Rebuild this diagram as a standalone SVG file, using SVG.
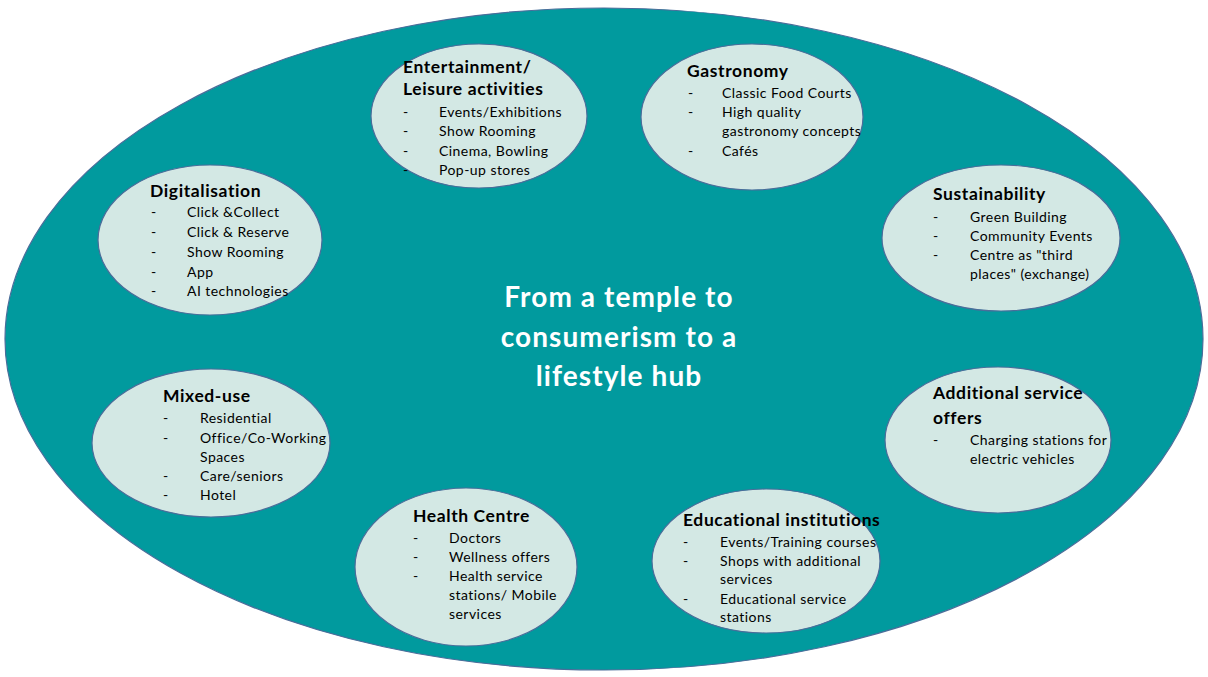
<svg xmlns="http://www.w3.org/2000/svg" width="1208" height="677" viewBox="0 0 1208 677">
  <style>
    .hub { fill: #019A9E; stroke: #4A6D9A; stroke-width: 1.2; }
    .topic { fill: #D3E8E4; stroke: #4A6D9A; stroke-width: 1.2; }
    text { font-family: Lato, "Open Sans", "Liberation Sans", sans-serif; fill: #000; }
    .title { font-size: 17.5px; font-weight: bold; letter-spacing: 0.6px; }
    .item { font-size: 14px; letter-spacing: 0.45px; }
    .centre { font-size: 28px; font-weight: bold; fill: #FFFFFF; text-anchor: middle; letter-spacing: 1.1px; }
  </style>

  <!-- outer hub -->
  <g id="hub">
    <ellipse class="hub" cx="604" cy="339" rx="599" ry="331"/>
    <text class="centre" x="619" y="307">From a temple to</text>
    <text class="centre" x="619" y="347">consumerism to a</text>
    <text class="centre" x="619" y="386">lifestyle hub</text>
  </g>

  <!-- no connectors in this diagram -->
  <g id="connectors"/>

  <g id="entertainment">
    <ellipse class="topic" cx="479" cy="116" rx="108" ry="72"/>
    <text class="title" x="403" y="73">Entertainment/</text>
    <text class="title" x="403" y="95">Leisure activities</text>
    <text class="item" x="403" y="117">-</text><text class="item" x="439" y="117">Events/Exhibitions</text>
    <text class="item" x="403" y="136">-</text><text class="item" x="439" y="136">Show Rooming</text>
    <text class="item" x="403" y="156">-</text><text class="item" x="439" y="156">Cinema, Bowling</text>
    <text class="item" x="403" y="175">-</text><text class="item" x="439" y="175">Pop-up stores</text>
  </g>

  <g id="gastronomy">
    <ellipse class="topic" cx="752" cy="117" rx="111" ry="73"/>
    <text class="title" x="687" y="77">Gastronomy</text>
    <text class="item" x="688" y="98">-</text><text class="item" x="722" y="98">Classic Food Courts</text>
    <text class="item" x="688" y="117">-</text><text class="item" x="722" y="117">High quality</text>
    <text class="item" x="722" y="136">gastronomy concepts</text>
    <text class="item" x="688" y="156">-</text><text class="item" x="722" y="156">Cafés</text>
  </g>

  <g id="digitalisation">
    <ellipse class="topic" cx="210" cy="240" rx="112" ry="75"/>
    <text class="title" x="150" y="197">Digitalisation</text>
    <text class="item" x="151" y="217">-</text><text class="item" x="187" y="217">Click &amp;Collect</text>
    <text class="item" x="151" y="237">-</text><text class="item" x="187" y="237">Click &amp; Reserve</text>
    <text class="item" x="151" y="257">-</text><text class="item" x="187" y="257">Show Rooming</text>
    <text class="item" x="151" y="277">-</text><text class="item" x="187" y="277">App</text>
    <text class="item" x="151" y="296">-</text><text class="item" x="187" y="296">AI technologies</text>
  </g>

  <g id="sustainability">
    <ellipse class="topic" cx="1001" cy="238" rx="119" ry="73"/>
    <text class="title" x="933" y="200">Sustainability</text>
    <text class="item" x="933" y="222">-</text><text class="item" x="970" y="222">Green Building</text>
    <text class="item" x="933" y="241">-</text><text class="item" x="970" y="241">Community Events</text>
    <text class="item" x="933" y="260">-</text><text class="item" x="970" y="260">Centre as "third</text>
    <text class="item" x="970" y="279">places" (exchange)</text>
  </g>

  <g id="mixed-use">
    <ellipse class="topic" cx="211" cy="443" rx="119" ry="74"/>
    <text class="title" x="163" y="402">Mixed-use</text>
    <text class="item" x="163" y="423">-</text><text class="item" x="200" y="423">Residential</text>
    <text class="item" x="163" y="443">-</text><text class="item" x="200" y="443">Office/Co-Working</text>
    <text class="item" x="200" y="462">Spaces</text>
    <text class="item" x="163" y="481">-</text><text class="item" x="200" y="481">Care/seniors</text>
    <text class="item" x="163" y="500">-</text><text class="item" x="200" y="500">Hotel</text>
  </g>

  <g id="additional-services">
    <ellipse class="topic" cx="998" cy="440" rx="113" ry="73"/>
    <text class="title" x="933" y="399">Additional service</text>
    <text class="title" x="933" y="424">offers</text>
    <text class="item" x="933" y="445">-</text><text class="item" x="970" y="445">Charging stations for</text>
    <text class="item" x="970" y="464">electric vehicles</text>
  </g>

  <g id="health-centre">
    <ellipse class="topic" cx="466" cy="567" rx="111" ry="79"/>
    <text class="title" x="413" y="522">Health Centre</text>
    <text class="item" x="413" y="543">-</text><text class="item" x="449" y="543">Doctors</text>
    <text class="item" x="413" y="562">-</text><text class="item" x="449" y="562">Wellness offers</text>
    <text class="item" x="413" y="581">-</text><text class="item" x="449" y="581">Health service</text>
    <text class="item" x="449" y="600">stations/ Mobile</text>
    <text class="item" x="449" y="619">services</text>
  </g>

  <g id="education">
    <ellipse class="topic" cx="766" cy="561" rx="114" ry="72"/>
    <text class="title" x="683" y="526">Educational institutions</text>
    <text class="item" x="683" y="547">-</text><text class="item" x="720" y="547">Events/Training courses</text>
    <text class="item" x="683" y="566">-</text><text class="item" x="720" y="566">Shops with additional</text>
    <text class="item" x="720" y="584">services</text>
    <text class="item" x="683" y="604">-</text><text class="item" x="720" y="604">Educational service</text>
    <text class="item" x="720" y="622">stations</text>
  </g>
</svg>
